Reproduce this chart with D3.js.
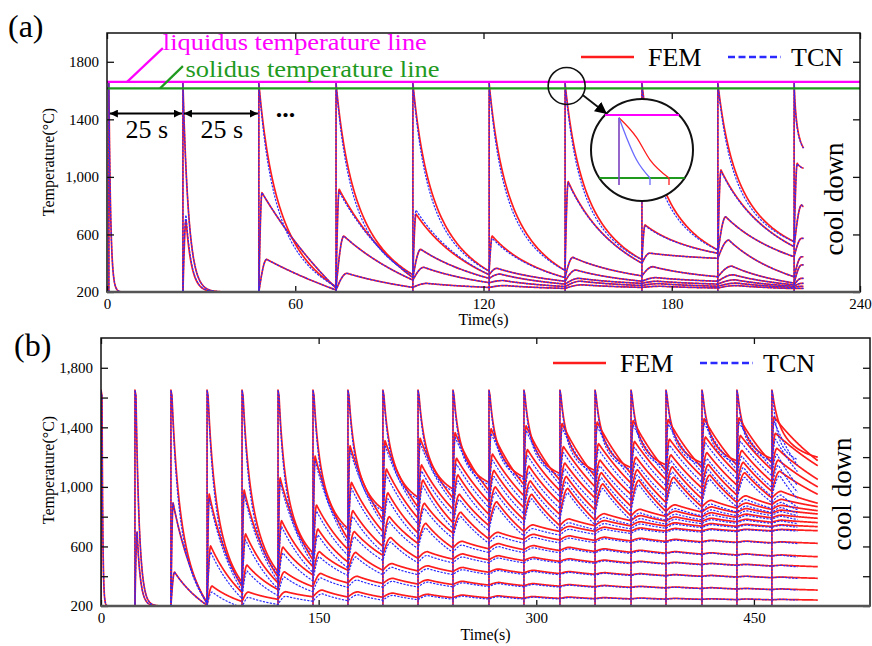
<!DOCTYPE html>
<html><head><meta charset="utf-8">
<script src="https://cdn.jsdelivr.net/npm/d3@7"></script>
<style>
html,body{margin:0;padding:0;background:#fff;}
svg{display:block;}
text{font-family:"Liberation Serif","Times New Roman",serif;}
</style></head><body>
<svg id="chart" width="872" height="646"></svg>
<script>
// ================= DATA =================
const liquidusT = 1660, solidusT = 1615, preheatT = 200, depositT = 1650;

// ---- panel (a) : 10 deposited layers ----
const pulseA = [0.6, 24.2, 48.4, 73.0, 97.5, 121.8, 146.0, 170.5, 194.7, 219.0];
const stopA = 222;
// temperature at the end of each interval, by depth d = 0 (newest layer) .. m
const endsA = [
  [200],
  [200, 200],
  [237, 226, 214],
  [320, 300, 283, 232],
  [345, 320, 295, 265, 232],
  [350, 300, 275, 255, 238, 225],
  [425, 400, 312, 275, 260, 245, 232],
  [492, 469, 434, 306, 275, 255, 240, 228],
  [550, 515, 445, 306, 262, 250, 240, 232, 224],
  [1200, 1060, 793, 573, 445, 388, 295, 260, 240, 225]
];
// re-heating peak in each interval, by depth d = 1 .. m
const peaksA = [
  [],
  [700],
  [890, 427],
  [914, 589, 330],
  [742, 497, 372, 260],
  [589, 365, 325, 280, 245],
  [967, 441, 353, 295, 275, 250],
  [666, 470, 376, 300, 275, 258, 240],
  [1048, 723, 561, 380, 320, 285, 262, 245],
  [1094, 805, 573, 445, 388, 295, 260, 240, 225]
];
const tcnD1PeakA = [null, 735, 890, 897, 770, 573, 960, 660, 1040, 1090];
const riseA = [0, 1, 2.5, 3.5, 4.5, 5, 5.5, 6, 6, 6];
const k0A = [40, 12, 0, 0, 0, 0, 0, 0, 0, 0];
const c0A = [0, 0, 3.2, 3.2, 3.2, 3.2, 3.2, 3.2, 3.2, 3];
const kRA = [0, 12, 0, 0, 0, 0, 0, 0, 0, 0];
const cRA = [0, 0, 0.3, 0.6, 0.8, 1, 1, 1, 1, 1];
const xTicksA = [0, 60, 120, 180, 240];
const yTicksA = [200, 600, 1000, 1400, 1800];
const yTickLabelsA = ["200", "600", "1,000", "1400", "1800"];

// ---- panel (b) : 20 deposited layers ----
const pulseB = [0, 23.4, 48.2, 73.1, 97.2, 122.0, 146.1, 170.2, 194.3, 218.5,
                242.6, 267.4, 291.5, 316.3, 340.5, 365.3, 389.4, 414.2, 438.3, 462.4];
const stopB = 494;
// end-of-interval temperatures for shallow depths (array for depth d starts at interval m = d)
const endD0B = [200, 200, 225, 360, 430, 556, 720, 850, 930, 985, 1030, 1065, 1090, 1110, 1130, 1148, 1162, 1175, 1190, 1199];
const endD1B = [200, 215, 330, 395, 509, 650, 780, 865, 925, 975, 1015, 1045, 1070, 1090, 1110, 1128, 1145, 1160, 1176];
const endD2B = [205, 290, 355, 464, 580, 700, 790, 850, 900, 940, 975, 1000, 1025, 1048, 1070, 1092, 1115, 1142];
const endD3B = [230, 310, 408, 495, 600, 690, 760, 815, 860, 895, 925, 950, 972, 992, 1012, 1035, 1050];
const endD4B = [245, 330, 440, 540, 620, 690, 740, 780, 815, 845, 870, 895, 920, 945, 970, 1000];
const endD5B = [262, 355, 440, 520, 590, 650, 700, 740, 775, 805, 835, 865, 895, 925, 950];
// re-heating peaks for shallow depths (array for depth d starts at interval m = d)
const peakD1B = [697, 892, 952, 979, 1060, 1207, 1275, 1310, 1326, 1364, 1390, 1410, 1425, 1435, 1445, 1452, 1458, 1464, 1470];
const peakD2B = [428, 603, 684, 773, 878, 1030, 1120, 1147, 1192, 1220, 1250, 1270, 1290, 1305, 1320, 1335, 1345, 1360];
const peakD3B = [334, 475, 596, 717, 840, 960, 1046, 1080, 1110, 1140, 1160, 1180, 1200, 1215, 1230, 1245, 1259];
const peakD4B = [294, 430, 565, 700, 800, 890, 950, 1000, 1040, 1070, 1095, 1115, 1135, 1150, 1165, 1180];
const peakD5B = [296, 419, 560, 660, 755, 830, 900, 950, 990, 1020, 1045, 1065, 1080, 1095, 1105];
// deep layers: final level of layer n at the end of the run, and size of re-heating bump (depth 6..)
const layerFinalB = [240, 307, 386, 464, 531, 621, 706, 733, 760, 789, 818, 840, 867, 890];
const bumpB = [45, 35, 28, 22, 18, 14, 11, 9, 7, 6, 5, 4, 4, 3];
// TCN deviation from FEM by depth
const tcnDeltaB = [-15, -30, -40, -40, -35, -30, -25, -20, -15, -10, -8, -6, -4, -3, -2, -2, -1, -1, 0, 0];
const riseB = [0, 1.5, 2.5, 3.5, 4.5, 5.5, 6.5, 7];
const k0B = [40, 9, 0, 0, 0, 0, 0, 0, 0, 0, 0, 0, 0, 0, 0, 0, 0, 0, 0, 0];
const c0B = [0, 0, 3, 3, 3, 3.5, 3.5, 3.5, 3.5, 3.5, 4, 4, 4, 4, 4, 4, 4, 4, 4, 4];
const kRB = [0, 9, 0, 0, 0, 0, 0, 0, 0, 0, 0, 0, 0, 0, 0, 0, 0, 0, 0, 0];
const cRB = [0, 0, 0.7, 0.7, 0.7, 0.6, 0.6, 0.5, 0.5, 0.5, 0.4, 0.4, 0.4, 0.3, 0.3, 0.3, 0.3, 0.3, 0.3, 0.3];
const xTicksB = [0, 150, 300, 450];
const yTicksB = [200, 400, 600, 800, 1000, 1200, 1400, 1600, 1800];
const yTickLabelsB = ["200", "", "600", "", "1,000", "", "1,400", "", "1,800"];

// inset (magnified cooling through the mushy zone), seconds after pulse
const insetFEM = [[0, 1658], [0.35, 1644], [0.62, 1628], [1.0, 1615]];
const insetTCN = [[0, 1658], [0.15, 1644], [0.35, 1628], [0.62, 1615]];

// ================= DRAWING =================
const FEM_COLOR = "#ff1c1c", TCN_COLOR = "#2a2aff";
const SERIF = '"Liberation Serif","Times New Roman",serif';
const svg = d3.select("#chart");
const defs = svg.append("defs");
defs.append("marker").attr("id", "ah").attr("viewBox", "0 0 10 10")
  .attr("refX", 10).attr("refY", 5).attr("markerWidth", 8).attr("markerHeight", 8)
  .attr("markerUnits", "userSpaceOnUse").attr("orient", "auto-start-reverse")
  .append("path").attr("d", "M0,0L10,5L0,10z").attr("fill", "#000");
defs.append("marker").attr("id", "ah2").attr("viewBox", "0 0 10 10")
  .attr("refX", 10).attr("refY", 5).attr("markerWidth", 12).attr("markerHeight", 12)
  .attr("markerUnits", "userSpaceOnUse").attr("orient", "auto")
  .append("path").attr("d", "M0,0L10,5L0,10z").attr("fill", "#000");

function decayTo(pts, ta, Ta, tb, Tb, k, c) {
  const n = Math.max(6, Math.ceil((tb - ta) / 0.2));
  for (let i = 1; i <= n; i++) {
    const s = i / n;
    let g = (1 - s) / (1 + c * s);
    if (k > 0) g *= Math.exp(-k * s);
    pts.push([ta + (tb - ta) * s, Tb + (Ta - Tb) * g]);
  }
}
function buildLayer(n, pulses, stop, acc, shape) {
  const last = pulses.length - 1;
  const tEnd = m => (m < last ? pulses[m + 1] : stop);
  const pts = [[pulses[n], preheatT], [pulses[n], depositT]];
  let ta = pulses[n], Ta = depositT;
  if (shape.knee) { ta += shape.knee[0]; Ta = shape.knee[1]; pts.push([ta, Ta]); }
  decayTo(pts, ta, Ta, tEnd(n), acc.E(n, 0), shape.k0[n], shape.c0[n] * shape.c0Scale);
  for (let m = n + 1; m <= last; m++) {
    const d = m - n, tm = pulses[m], te = tEnd(m);
    const from = acc.E(m - 1, d - 1), pk = acc.P(m, d);
    const r = Math.min(shape.rise[Math.min(d, shape.rise.length - 1)], 0.8 * (te - tm));
    for (let i = 1; i <= 10; i++) {
      const u = i / 10;
      pts.push([tm + r * u, from + (pk - from) * Math.sin(u * Math.PI / 2)]);
    }
    decayTo(pts, tm + r, pk, te, acc.E(m, d), shape.kR[m], shape.cR[m] * (d > 1 ? 0.7 : 1));
  }
  return pts;
}

// accessors
const accA = tcn => ({
  E: (m, d) => endsA[m][d],
  P: (m, d) => (tcn && d === 1) ? tcnD1PeakA[m] : peaksA[m][d - 1]
});
const endByDepthB = [endD0B, endD1B, endD2B, endD3B, endD4B, endD5B];
const peakByDepthB = [null, peakD1B, peakD2B, peakD3B, peakD4B, peakD5B];
function EBfem(m, d) {
  if (d < endByDepthB.length) return endByDepthB[d][m - d];
  const n = m - d, mA = n + 5, vA = endD5B[n], vB = layerFinalB[n];
  return vA + (vB - vA) * (m - mA) / (pulseB.length - 1 - mA);
}
function PBfem(m, d) {
  if (d < peakByDepthB.length) return peakByDepthB[d][m - d];
  return EBfem(m - 1, d - 1) + bumpB[Math.min(d - 6, bumpB.length - 1)];
}
const accB = tcn => ({
  E: (m, d) => EBfem(m, d) + (tcn && m >= 3 ? tcnDeltaB[d] : 0),
  P: (m, d) => PBfem(m, d) + (tcn && m >= 3 ? tcnDeltaB[d] : 0)
});

function drawPanel(cfg) {
  const { x, y, id } = cfg;
  const [xl, xr] = x.range(), [yb, yt] = y.range();
  const g = svg.append("g");
  g.append("clipPath").attr("id", id).append("rect")
    .attr("x", xl).attr("y", yt).attr("width", xr - xl).attr("height", yb - yt);
  const plot = g.append("g").attr("clip-path", `url(#${id})`);
  const line = d3.line().x(p => x(p[0])).y(p => y(p[1]));
  const nL = cfg.pulses.length;
  const fem = d3.range(nL).map(n => buildLayer(n, cfg.pulses, cfg.stop, cfg.acc(false), Object.assign({}, cfg.shape, { c0Scale: 1 })));
  const tcn = d3.range(nL).map(n => buildLayer(n, cfg.pulses, cfg.stop - cfg.tcnShort, cfg.acc(true), Object.assign({}, cfg.shape, { c0Scale: 1.2 })));
  plot.append("g").selectAll("path").data(fem).join("path")
    .attr("d", line).attr("fill", "none").attr("stroke", FEM_COLOR).attr("stroke-width", 1.7)
    .attr("stroke-linejoin", "round");
  plot.append("g").selectAll("path").data(tcn).join("path")
    .attr("d", line).attr("fill", "none").attr("stroke", TCN_COLOR).attr("stroke-width", 1.2)
    .attr("stroke-dasharray", "2.2,1.3").attr("stroke-linejoin", "round");
  cfg.extra && cfg.extra(plot, g);

  // axes
  const styleAxis = sel => {
    sel.select(".domain").remove();
    sel.attr("font-family", SERIF).attr("font-size", 15);
    sel.selectAll(".tick line").attr("stroke", "#111").attr("stroke-width", 1.3);
    sel.selectAll(".tick text").attr("fill", "#000");
  };
  g.append("g").attr("transform", `translate(0,${yb})`)
    .call(d3.axisBottom(x).tickValues(cfg.xTicks).tickSize(-6).tickSizeOuter(0).tickPadding(6).tickFormat(d3.format("d")))
    .call(styleAxis);
  g.append("g").attr("transform", `translate(0,${yt})`)
    .call(d3.axisTop(x).tickValues(cfg.xTicks).tickSize(-6).tickSizeOuter(0).tickFormat(() => ""))
    .call(styleAxis);
  g.append("g").attr("transform", `translate(${xl},0)`)
    .call(d3.axisLeft(y).tickValues(cfg.yTicks).tickSize(-7).tickSizeOuter(0).tickPadding(8)
      .tickFormat((d, i) => cfg.yLabels[i]))
    .call(styleAxis);
  g.append("g").attr("transform", `translate(${xr},0)`)
    .call(d3.axisRight(y).tickValues(cfg.yTicks).tickSize(-7).tickSizeOuter(0).tickFormat(() => ""))
    .call(styleAxis);
  g.append("rect").attr("x", xl).attr("y", yt).attr("width", xr - xl).attr("height", yb - yt)
    .attr("fill", "none").attr("stroke", "#111").attr("stroke-width", 1.5);
  g.append("line").attr("x1", xl).attr("x2", xr).attr("y1", yb).attr("y2", yb)
    .attr("stroke", "#555").attr("stroke-width", 2.6);

  // titles
  g.append("text").attr("x", (xl + xr) / 2).attr("y", cfg.xTitleY).attr("text-anchor", "middle")
    .attr("font-size", 16).text("Time(s)");
  g.append("text").attr("transform", `translate(${cfg.yTitlePos[0]},${cfg.yTitlePos[1]}) rotate(-90)`)
    .attr("text-anchor", "middle").attr("font-size", 16).text("Temperature(°C)");
  g.append("text").attr("x", cfg.panelLabel[0]).attr("y", cfg.panelLabel[1]).attr("font-size", 32).text(cfg.panelLabel[2]);
  g.append("text").attr("transform", `translate(${cfg.coolPos[0]},${cfg.coolPos[1]}) rotate(-90)`)
    .attr("text-anchor", "middle").attr("font-size", 27).text("cool down");

  // legend
  const L = cfg.legend;
  g.append("line").attr("x1", L.x).attr("x2", L.x + 53).attr("y1", L.y).attr("y2", L.y)
    .attr("stroke", FEM_COLOR).attr("stroke-width", 2.6);
  g.append("text").attr("x", L.x + 67).attr("y", L.y + 9).attr("font-size", 26).text("FEM");
  g.append("line").attr("x1", L.x + 147).attr("x2", L.x + 200).attr("y1", L.y).attr("y2", L.y)
    .attr("stroke", TCN_COLOR).attr("stroke-width", 2.6).attr("stroke-dasharray", "7,3.5");
  g.append("text").attr("x", L.x + 210).attr("y", L.y + 9).attr("font-size", 26).text("TCN");
  return g;
}

// ---------- panel (a) ----------
const xA = d3.scaleLinear().domain([0, 240]).range([107, 860]);
const yA = d3.scaleLinear().domain([200, 2000]).range([292, 33]);
drawPanel({
  id: "clipA", x: xA, y: yA, pulses: pulseA, stop: stopA, tcnShort: 0, acc: accA,
  shape: { rise: riseA, k0: k0A, c0: c0A, kR: kRA, cR: cRA, knee: null },
  xTicks: xTicksA, yTicks: yTicksA, yLabels: yTickLabelsA,
  xTitleY: 325, yTitlePos: [54, 162], panelLabel: [8, 37, "(a)"], coolPos: [843, 199],
  legend: { x: 581, y: 57 },
  extra: (plot, g) => {
    const [xl, xr] = xA.range();
    g.append("line").attr("x1", xl).attr("x2", xr).attr("y1", yA(liquidusT)).attr("y2", yA(liquidusT))
      .attr("stroke", "#ff00ff").attr("stroke-width", 2.4);
    g.append("line").attr("x1", xl).attr("x2", xr).attr("y1", yA(solidusT)).attr("y2", yA(solidusT))
      .attr("stroke", "#1f9a1f").attr("stroke-width", 2.2);
    // labels with leader lines
    g.append("line").attr("x1", xA(6.4)).attr("y1", yA(liquidusT)).attr("x2", xA(17.8)).attr("y2", yA(1895))
      .attr("stroke", "#ff00ff").attr("stroke-width", 2.2);
    g.append("text").attr("x", xA(17.8)).attr("y", 50).attr("font-size", 24).attr("fill", "#ff00ff")
      .attr("textLength", 264).attr("lengthAdjust", "spacingAndGlyphs")
      .text("liquidus temperature line");
    g.append("line").attr("x1", xA(16.9)).attr("y1", yA(solidusT)).attr("x2", xA(24.2)).attr("y2", yA(1770))
      .attr("stroke", "#1f9a1f").attr("stroke-width", 2.2);
    g.append("text").attr("x", xA(25)).attr("y", 77).attr("font-size", 24).attr("fill", "#1f9a1f")
      .attr("textLength", 254).attr("lengthAdjust", "spacingAndGlyphs")
      .text("solidus temperature line");
    // 25 s arrows
    const ay = yA(1440);
    [[pulseA[0], pulseA[1]], [pulseA[1], pulseA[2]]].forEach(([a, b]) => {
      g.append("line").attr("x1", xA(a) + 1).attr("x2", xA(b) - 1).attr("y1", ay).attr("y2", ay)
        .attr("stroke", "#000").attr("stroke-width", 2)
        .attr("marker-start", "url(#ah)").attr("marker-end", "url(#ah)");
      g.append("text").attr("x", (xA(a) + xA(b)) / 2 + 1).attr("y", 138).attr("text-anchor", "middle")
        .attr("font-size", 26).text("25 s");
    });
    g.append("text").attr("x", xA(pulseA[2]) + 17).attr("y", 117).attr("font-size", 26)
      .attr("font-weight", "bold").text("...");
    // magnifier
    const sc = [xA(146.5), yA(1632)];
    g.append("circle").attr("cx", sc[0]).attr("cy", sc[1]).attr("r", 18.5)
      .attr("fill", "none").attr("stroke", "#111").attr("stroke-width", 1.6);
    const bc = [642, 150, 51];
    g.append("line").attr("x1", sc[0] + 16).attr("y1", sc[1] + 9).attr("x2", 607).attr("y2", 114)
      .attr("stroke", "#111").attr("stroke-width", 1.8).attr("marker-end", "url(#ah2)");
    g.append("circle").attr("cx", bc[0]).attr("cy", bc[1]).attr("r", bc[2])
      .attr("fill", "#fff").attr("stroke", "#111").attr("stroke-width", 2);
    const ix = d3.scaleLinear().domain([0, 1]).range([619, 669]);
    const iy = d3.scaleLinear().domain([solidusT, liquidusT]).range([178, 115]);
    const chord = yy => Math.sqrt(bc[2] * bc[2] - (yy - bc[1]) * (yy - bc[1]));
    const yL = iy(liquidusT), yS = iy(solidusT);
    g.append("line").attr("x1", bc[0] - chord(yL)).attr("x2", bc[0] + chord(yL)).attr("y1", yL).attr("y2", yL)
      .attr("stroke", "#ff00ff").attr("stroke-width", 2);
    g.append("line").attr("x1", bc[0] - chord(yS)).attr("x2", bc[0] + chord(yS)).attr("y1", yS).attr("y2", yS)
      .attr("stroke", "#1f9a1f").attr("stroke-width", 2.2);
    const il = d3.line().x(p => ix(p[0])).y(p => iy(p[1])).curve(d3.curveMonotoneX);
    g.append("line").attr("x1", ix(0)).attr("x2", ix(0)).attr("y1", iy(1658)).attr("y2", iy(1610))
      .attr("stroke", "#7a3fbf").attr("stroke-width", 1.6);
    g.append("path").attr("d", il(insetFEM)).attr("fill", "none").attr("stroke", FEM_COLOR).attr("stroke-width", 1.3);
    g.append("path").attr("d", il(insetTCN)).attr("fill", "none").attr("stroke", "#6a6aff").attr("stroke-width", 1.3);
    const endF = insetFEM[insetFEM.length - 1], endT = insetTCN[insetTCN.length - 1];
    g.append("line").attr("x1", ix(endF[0])).attr("x2", ix(endF[0])).attr("y1", iy(endF[1])).attr("y2", iy(1610))
      .attr("stroke", FEM_COLOR).attr("stroke-width", 1.3);
    g.append("line").attr("x1", ix(endT[0])).attr("x2", ix(endT[0])).attr("y1", iy(endT[1])).attr("y2", iy(1610))
      .attr("stroke", "#6a6aff").attr("stroke-width", 1.3);
  }
});

// ---------- panel (b) ----------
const xB = d3.scaleLinear().domain([0, 530]).range([101, 870]);
const yB = d3.scaleLinear().domain([200, 2000]).range([606, 338]);
drawPanel({
  id: "clipB", x: xB, y: yB, pulses: pulseB, stop: stopB, tcnShort: 14, acc: accB,
  shape: { rise: riseB, k0: k0B, c0: c0B, kR: kRB, cR: cRB, knee: [0.7, 1612] },
  xTicks: xTicksB, yTicks: yTicksB, yLabels: yTickLabelsB,
  xTitleY: 640, yTitlePos: [54, 470], panelLabel: [14, 356, "(b)"], coolPos: [851, 494],
  legend: { x: 553, y: 363 }
});
</script>
</body></html>
